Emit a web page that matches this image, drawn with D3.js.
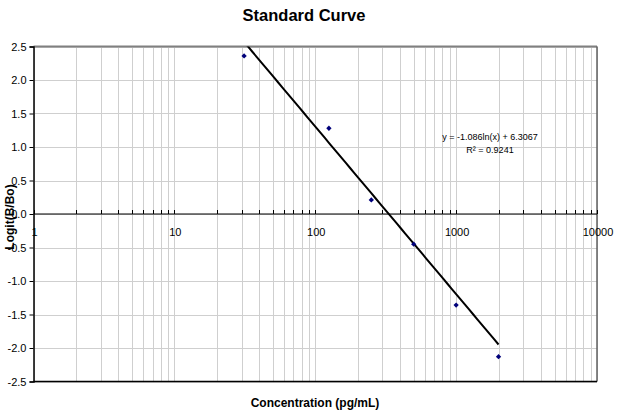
<!DOCTYPE html>
<html>
<head>
<meta charset="utf-8">
<script src="https://cdn.jsdelivr.net/npm/d3@7"></script>
<style>
  body { margin: 0; background: #fff; }
  text { font-family: "Liberation Sans", Arial, sans-serif; }
</style>
</head>
<body>
<svg id="chart" width="621" height="416"></svg>
<script>
// standard points (concentration in pg/mL, logit(B/Bo))
const concentrations = [31.25, 125, 250, 500, 1000, 2000];
const logitValues = [2.36, 1.28, 0.21, -0.45, -1.36, -2.13];

const xTicks = [1, 10, 100, 1000, 10000];
const yTicks = [2.5, 2.0, 1.5, 1.0, 0.5, 0.0, -0.5, -1.0, -1.5, -2.0, -2.5];

// log fit from the sheet: y = a ln(x) + b
const fitSlope = -1.086, fitIntercept = 6.3067;
const fitLabel = "y = -1.086ln(x) + 6.3067";
const r2Label = "R\u00b2 = 0.9241";

const svg = d3.select("#chart");

const x = d3.scaleLog()
    .domain([1, 10000])
    .range([33.5, 597]);

const y = d3.scaleLinear()
    .domain([-2.5, 2.5])
    .range([381.5, 46.5]);

// minor grid values 1..9 per decade
let gridX = [];
for (let p = 0; p < 4; p++) {
	for (let m = 1; m < 10; m++) gridX.push(m * Math.pow(10, p));
}
gridX.push(10000);

const grid = svg.append("g").attr("class", "grid");

grid.selectAll("line.v")
    .data(gridX)
  .enter().append("line")
    .attr("class", "v")
    .attr("x1", d => Math.round(x(d)) + 0.5)
    .attr("x2", d => Math.round(x(d)) + 0.5)
    .attr("y1", y(2.5))
    .attr("y2", y(-2.5))
    .attr("stroke", "#cfcfcf")
    .attr("stroke-width", 1);

grid.selectAll("line.h")
    .data(yTicks)
  .enter().append("line")
    .attr("class", "h")
    .attr("x1", x(1))
    .attr("x2", x(10000))
    .attr("y1", d => Math.round(y(d)) + 0.5)
    .attr("y2", d => Math.round(y(d)) + 0.5)
    .attr("stroke", "#cfcfcf")
    .attr("stroke-width", 1);

// plot frame: top and right in grey
svg.append("line")
    .attr("x1", x(1)).attr("x2", x(10000))
    .attr("y1", y(2.5)).attr("y2", y(2.5))
    .attr("stroke", "#808080").attr("stroke-width", 2);

svg.append("line")
    .attr("x1", x(10000)).attr("x2", x(10000))
    .attr("y1", y(2.5)).attr("y2", y(-2.5))
    .attr("stroke", "#606060").attr("stroke-width", 1.5);

svg.append("line")
    .attr("x1", x(1)).attr("x2", x(10000))
    .attr("y1", y(-2.5)).attr("y2", y(-2.5))
    .attr("stroke", "#000").attr("stroke-width", 1.5);

// y axis, plain hyphen for negatives like the spreadsheet
svg.append("g")
    .attr("transform", "translate(" + x(1) + ",0)")
    .call(d3.axisLeft(y)
        .tickValues(yTicks)
        .tickSize(4)
        .tickPadding(3)
        .tickFormat(d => d.toFixed(1)))
    .call(g => g.selectAll("text")
        .attr("font-size", 11)
        .attr("font-family", "Liberation Sans, Arial, sans-serif")
        .attr("fill", "#000"))
    .call(g => g.selectAll("line, path").attr("stroke", "#000"))
    .call(g => g.select(".domain").attr("stroke-width", 1.5));

// x axis sits on y = 0
const xAxis = svg.append("g")
    .attr("transform", "translate(0," + y(0) + ")");

xAxis.append("line")
    .attr("x1", x(1)).attr("x2", x(10000))
    .attr("y1", 0).attr("y2", 0)
    .attr("stroke", "#000").attr("stroke-width", 1.2);

xAxis.selectAll("line.tick")
    .data(gridX)
  .enter().append("line")
    .attr("class", "tick")
    .attr("x1", d => Math.round(x(d)) + 0.5)
    .attr("x2", d => Math.round(x(d)) + 0.5)
    .attr("y1", -4)
    .attr("y2", 0)
    .attr("stroke", "#000");

xAxis.selectAll("text")
    .data(xTicks)
  .enter().append("text")
    .attr("x", d => x(d) + 1)
    .attr("y", 22)
    .attr("text-anchor", "middle")
    .attr("font-size", 11)
    .text(d => d);

// trend line, clipped to the plot area
svg.append("clipPath")
    .attr("id", "plot-clip")
  .append("rect")
    .attr("x", x(1))
    .attr("y", y(2.5))
    .attr("width", x(10000) - x(1))
    .attr("height", y(-2.5) - y(2.5));

const fitX = d3.range(0, 61).map(i => Math.exp(Math.log(concentrations[0]) +
    i / 60 * (Math.log(concentrations[concentrations.length - 1]) - Math.log(concentrations[0]))));

svg.append("path")
    .datum(fitX)
    .attr("clip-path", "url(#plot-clip)")
    .attr("fill", "none")
    .attr("stroke", "#000")
    .attr("stroke-width", 2)
    .attr("d", d3.line()
        .x(d => x(d))
        .y(d => y(fitSlope * Math.log(d) + fitIntercept)));

// data markers: small square turned 45 degrees
svg.selectAll("path.point")
    .data(concentrations)
  .enter().append("path")
    .attr("class", "point")
    .attr("transform", (d, i) => "translate(" + x(d) + "," + y(logitValues[i]) + ") rotate(45)")
    .attr("d", d3.symbol().type(d3.symbolSquare).size(14))
    .attr("fill", "#00007a");

// fit equation
svg.append("text")
    .attr("x", 490)
    .attr("y", 140)
    .attr("text-anchor", "middle")
    .attr("font-size", 9)
    .text(fitLabel);

svg.append("text")
    .attr("x", 490)
    .attr("y", 153)
    .attr("text-anchor", "middle")
    .attr("font-size", 9)
    .text(r2Label);

// titles
svg.append("text")
    .attr("x", 304)
    .attr("y", 21)
    .attr("text-anchor", "middle")
    .attr("font-size", 16.5)
    .attr("font-weight", "bold")
    .text("Standard Curve");

svg.append("text")
    .attr("x", 315)
    .attr("y", 407)
    .attr("text-anchor", "middle")
    .attr("font-size", 12)
    .attr("font-weight", "bold")
    .text("Concentration (pg/mL)");

svg.append("text")
    .attr("transform", "translate(14,217) rotate(-90)")
    .attr("text-anchor", "middle")
    .attr("font-size", 12)
    .attr("font-weight", "bold")
    .text("Logit(B/Bo)");
</script>
</body>
</html>
